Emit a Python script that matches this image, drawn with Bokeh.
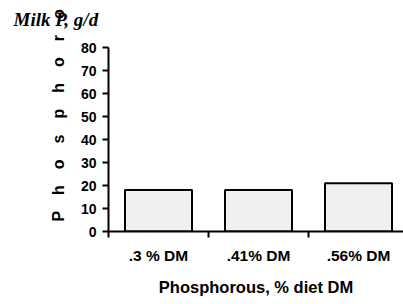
import numpy as np
from bokeh.plotting import figure
from bokeh.models import FixedTicker, Range1d, ColumnDataSource
from bokeh.embed import file_html
from bokeh.resources import INLINE

categories = [".3 % DM", ".41% DM", ".56% DM"]
milk_p = [18.0, 18.0, 21.0]
y_ticks = [0, 10, 20, 30, 40, 50, 60, 70, 80]
title_text = "Milk P, g/d"
y_label_text = "Phosphoro"
x_label_text = "Phosphorous, % diet DM"

xs = (np.arange(len(categories)) + 0.5).tolist()
bounds = np.arange(len(categories) + 1).tolist()
src = ColumnDataSource(dict(x=xs, top=milk_p))

FONT = "Liberation Sans"

# frame spans pixel rows 34..231; the axis itself is bounded to 0..80 (top at row 47)
W, H = 403, 304
TOP, BOTTOM = 34, 73
frame_h = H - TOP - BOTTOM
y_max = max(y_ticks)
y_end = y_max * frame_h / (frame_h - (47 - TOP))

p = figure(width=W, height=H, x_range=Range1d(0, 2.95), y_range=Range1d(0, y_end),
           output_backend="svg", toolbar_location=None,
           min_border_left=108, min_border_right=0, min_border_top=TOP, min_border_bottom=BOTTOM)
p.outline_line_color = None
p.grid.visible = False
p.background_fill_color = "white"
p.border_fill_color = "white"

p.title.text = title_text
p.title.align = "left"
p.title.vertical_align = "bottom"
p.title.offset = -95
p.title.standoff = 10
p.title.text_font = "Liberation Serif"
p.title.text_font_style = "bold italic"
p.title.text_font_size = "19px"
p.title.text_color = "black"

p.vbar(x="x", top="top", width=0.67, bottom=0, source=src,
       fill_color="#f0f0f0", line_color="black", line_width=2)

# x axis
xa = p.xaxis[0]
xa.ticker = FixedTicker(ticks=xs, minor_ticks=bounds)
xa.major_label_overrides = {k: v for k, v in zip(xs, categories)}
xa.major_tick_out = 0
xa.major_tick_in = 0
xa.minor_tick_out = 6
xa.minor_tick_in = 0
xa.minor_tick_line_width = 2
xa.minor_tick_line_color = "black"
xa.axis_line_width = 2
xa.axis_line_color = "black"
xa.major_label_standoff = 9
xa.major_label_text_font = FONT
xa.major_label_text_font_style = "bold"
xa.major_label_text_font_size = "15.5px"
xa.major_label_text_color = "black"
xa.axis_label = x_label_text
xa.axis_label_text_font = FONT
xa.axis_label_text_font_style = "bold"
xa.axis_label_text_font_size = "16.5px"
xa.axis_label_text_color = "black"
xa.axis_label_standoff = 11

# y axis
ya = p.yaxis[0]
ya.ticker = FixedTicker(ticks=y_ticks, minor_ticks=[])
ya.bounds = (0, y_max)
ya.major_tick_out = 6
ya.major_tick_in = 0
ya.major_tick_line_width = 2
ya.axis_line_width = 2
ya.axis_line_color = "black"
ya.major_label_standoff = 6
ya.major_label_text_font = FONT
ya.major_label_text_font_style = "bold"
ya.major_label_text_font_size = "14px"
ya.major_label_text_color = "black"
ya.axis_label = "\u2003\u2003\u2009" + "\u2003".join(y_label_text)
ya.axis_label_text_font = FONT
ya.axis_label_text_font_style = "bold"
ya.axis_label_text_font_size = "16px"
ya.axis_label_text_color = "black"
ya.axis_label_standoff = 11

open("out.html", "w").write(file_html(p, INLINE))
